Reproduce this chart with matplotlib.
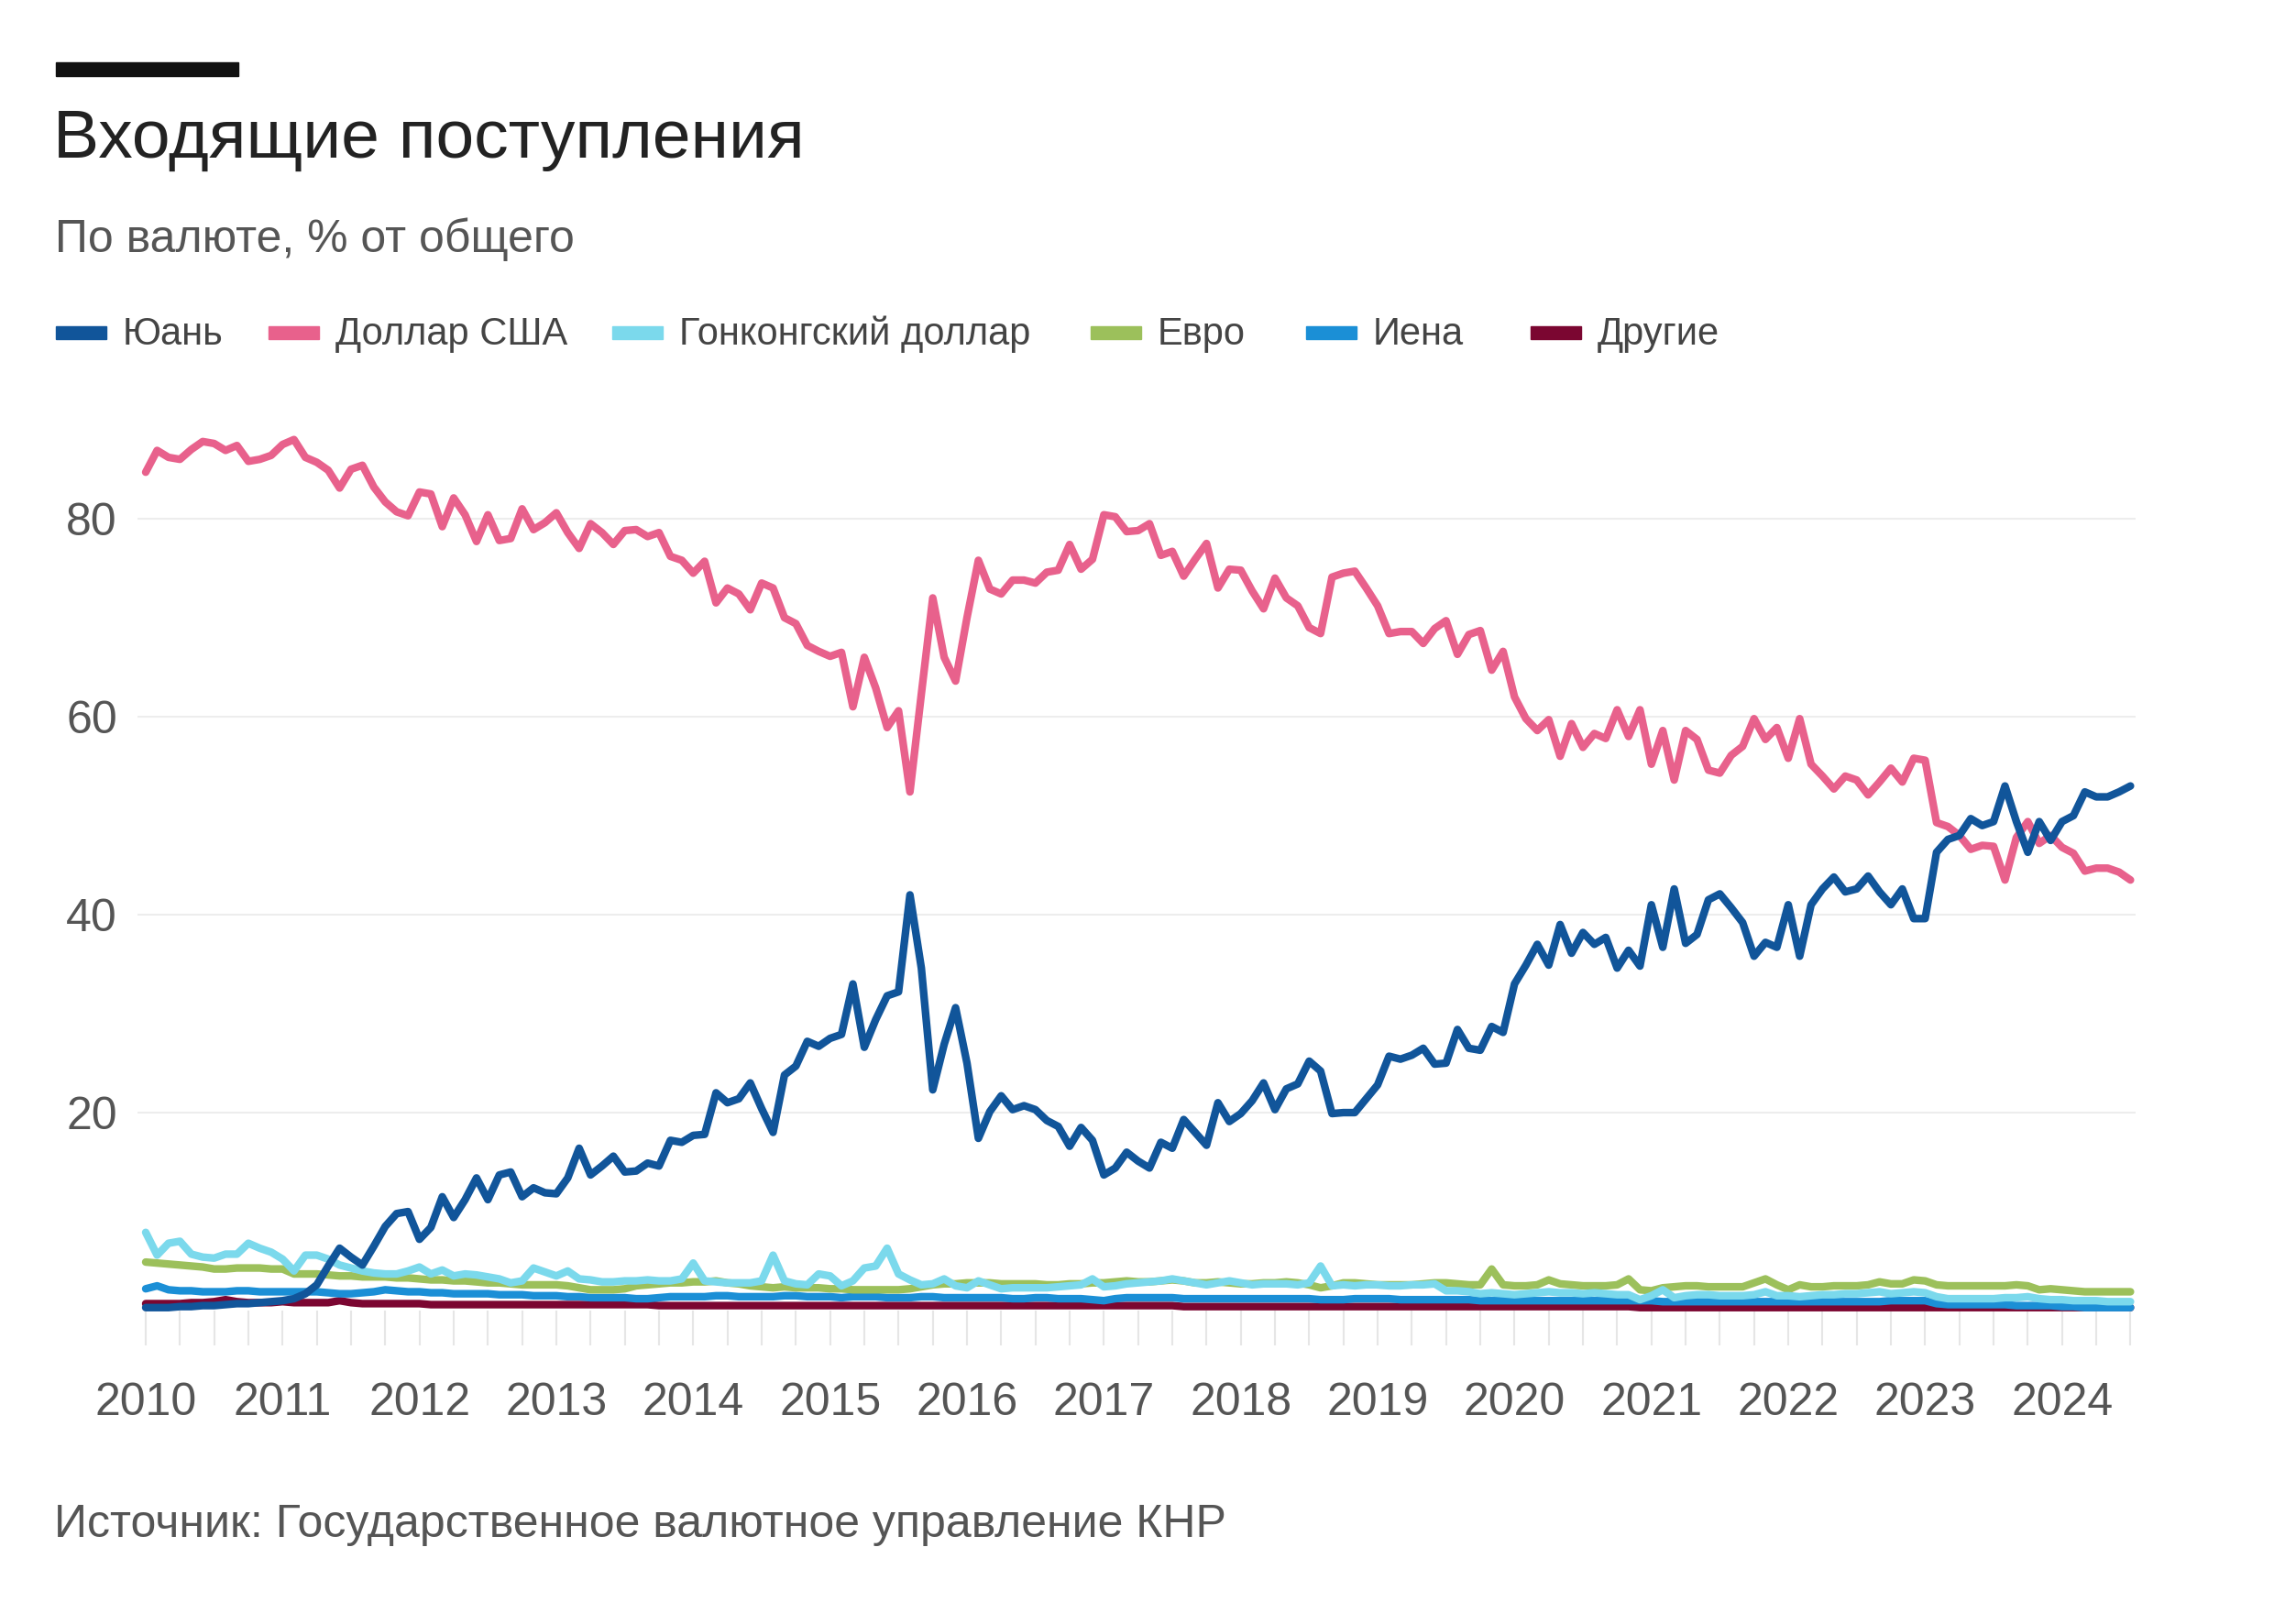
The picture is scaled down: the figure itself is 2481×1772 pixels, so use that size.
import numpy as np
import matplotlib
matplotlib.use("Agg")
import matplotlib.pyplot as plt
from matplotlib.patches import Rectangle

plt.rcParams['font.family'] = ['Liberation Sans', 'DejaVu Sans']

# monthly shares, Jan 2010 .. Jul 2024 (% of total inflows)
years = list(range(2010, 2025))

yuan = [0.3, 0.3, 0.3, 0.4, 0.4, 0.5, 0.5, 0.6, 0.7, 0.7, 0.8, 0.9,
        1.0, 1.2, 1.7, 2.6, 4.5, 6.3, 5.4, 4.6, 6.5, 8.5, 9.8, 10.0,
        7.2, 8.4, 11.5, 9.4, 11.2, 13.4, 11.2, 13.7, 14.0, 11.5, 12.4, 11.9,
        11.8, 13.4, 16.4, 13.7, 14.6, 15.6, 14.0, 14.1, 14.9, 14.6, 17.2, 17.0,
        17.7, 17.8, 22.0, 21.0, 21.4, 23.0, 20.4, 18.0, 23.8, 24.7, 27.2, 26.7,
        27.5, 27.9, 33.0, 26.6, 29.4, 31.8, 32.2, 42.0, 34.6, 22.3, 26.9, 30.6,
        25.0, 17.4, 20.1, 21.7, 20.3, 20.7, 20.3, 19.2, 18.6, 16.6, 18.5, 17.2,
        13.7, 14.4, 16.0, 15.1, 14.4, 17.0, 16.4, 19.3, 18.0, 16.7, 21.0, 19.1,
        19.9, 21.2, 23.0, 20.3, 22.4, 22.9, 25.2, 24.2, 19.9, 20.0, 20.0, 21.4,
        22.8, 25.7, 25.4, 25.8, 26.5, 24.9, 25.0, 28.4, 26.5, 26.3, 28.7, 28.1,
        33.0, 34.9, 37.0, 34.9, 39.0, 36.1, 38.2, 37.0, 37.7, 34.6, 36.4, 34.8,
        41.0, 36.7, 42.6, 37.1, 38.0, 41.5, 42.1, 40.7, 39.2, 35.8, 37.2, 36.7,
        41.0, 35.8, 41.0, 42.6, 43.8, 42.3, 42.6, 43.9, 42.3, 41.0, 42.6, 39.6,
        39.6, 46.3, 47.6, 48.0, 49.7, 49.0, 49.4, 53.0, 49.4, 46.3, 49.4, 47.5,
        49.4, 50.0, 52.4, 51.9, 51.9, 52.4, 53.0]

usd = [84.7, 86.9, 86.2, 86.0, 87.0, 87.8, 87.6, 86.9, 87.4, 85.8, 86.0, 86.4,
       87.5, 88.0, 86.2, 85.7, 84.9, 83.1, 85.0, 85.4, 83.2, 81.7, 80.7, 80.3,
       82.7, 82.5, 79.2, 82.1, 80.4, 77.7, 80.4, 77.8, 78.0, 81.0, 78.9, 79.6,
       80.6, 78.6, 77.0, 79.5, 78.6, 77.4, 78.8, 78.9, 78.2, 78.6, 76.2, 75.8,
       74.5, 75.7, 71.5, 73.0, 72.4, 70.8, 73.5, 73.0, 70.0, 69.4, 67.2, 66.6,
       66.1, 66.5, 61.0, 66.0, 62.9, 58.9, 60.6, 52.4, 62.3, 72.0, 66.0, 63.6,
       70.0, 75.8, 72.9, 72.4, 73.8, 73.8, 73.5, 74.6, 74.8, 77.4, 74.9, 75.9,
       80.4, 80.2, 78.7, 78.8, 79.5, 76.3, 76.7, 74.2, 75.9, 77.5, 73.0, 74.9,
       74.8, 72.7, 70.9, 74.0, 72.0, 71.2, 69.0, 68.4, 74.1, 74.5, 74.7, 73.0,
       71.2, 68.4, 68.6, 68.6, 67.4, 68.9, 69.7, 66.3, 68.3, 68.7, 64.7, 66.6,
       62.0, 59.8, 58.6, 59.7, 56.0, 59.3, 56.9, 58.3, 57.8, 60.7, 58.0, 60.7,
       55.2, 58.6, 53.6, 58.6, 57.7, 54.6, 54.3, 56.1, 57.0, 59.8, 57.7, 58.9,
       55.8, 59.8, 55.2, 54.0, 52.7, 54.0, 53.6, 52.1, 53.4, 54.8, 53.4, 55.8,
       55.6, 49.3, 48.9, 48.0, 46.6, 47.0, 46.9, 43.5, 47.8, 49.4, 47.2, 48.0,
       46.8, 46.2, 44.4, 44.7, 44.7, 44.3, 43.5]

hkd = [7.9, 5.6, 6.8, 7.0, 5.7, 5.4, 5.3, 5.7, 5.7, 6.8, 6.3, 5.9,
       5.2, 4.0, 5.6, 5.6, 5.2, 4.6, 4.3, 4.0, 3.8, 3.7, 3.7, 4.0,
       4.4, 3.7, 4.1, 3.5, 3.7, 3.6, 3.4, 3.2, 2.8, 3.0, 4.3, 3.9,
       3.5, 4.0, 3.2, 3.1, 2.9, 2.9, 3.0, 3.0, 3.1, 3.0, 3.0, 3.2,
       4.8, 3.0, 2.9, 2.8, 2.8, 2.8, 3.0, 5.6, 3.0, 2.7, 2.6, 3.7,
       3.5, 2.5, 3.0, 4.3, 4.5, 6.3, 3.7, 3.1, 2.6, 2.7, 3.2, 2.5,
       2.3, 3.0, 2.6, 2.2, 2.3, 2.3, 2.3, 2.3, 2.4, 2.5, 2.6, 3.2,
       2.4, 2.5, 2.7, 2.8, 2.9, 3.0, 3.2, 3.0, 2.8, 2.6, 2.8, 3.0,
       2.8, 2.6, 2.7, 2.7, 2.7, 2.6, 2.8, 4.5, 2.5, 2.6, 2.5, 2.6,
       2.6, 2.5, 2.5, 2.6, 2.6, 2.7, 2.0, 2.0, 1.9, 1.7, 1.8, 1.7,
       1.6, 1.7, 1.8, 1.9, 1.8, 1.8, 1.7, 1.8, 1.7, 1.6, 1.6, 1.1,
       1.5, 2.1, 1.3, 1.5, 1.6, 1.6, 1.5, 1.5, 1.5, 1.6, 1.9, 1.5,
       1.5, 1.4, 1.5, 1.6, 1.6, 1.7, 1.7, 1.8, 1.9, 1.7, 1.8, 1.9,
       1.8, 1.4, 1.2, 1.2, 1.2, 1.2, 1.2, 1.3, 1.3, 1.4, 1.2, 1.1,
       1.1, 1.0, 1.0, 1.0, 0.9, 0.9, 0.9]

eur = [4.9, 4.8, 4.7, 4.6, 4.5, 4.4, 4.2, 4.2, 4.3, 4.3, 4.3, 4.2,
       4.2, 3.7, 3.7, 3.7, 3.6, 3.5, 3.5, 3.4, 3.4, 3.4, 3.3, 3.3,
       3.2, 3.1, 3.1, 3.0, 3.0, 2.9, 2.8, 2.8, 2.7, 2.6, 2.6, 2.6,
       2.6, 2.5, 2.3, 2.1, 2.1, 2.1, 2.2, 2.5, 2.6, 2.7, 2.8, 2.8,
       2.9, 2.9, 3.0, 2.8, 2.7, 2.5, 2.4, 2.3, 2.4, 2.3, 2.3, 2.3,
       2.2, 2.2, 2.1, 2.1, 2.1, 2.1, 2.1, 2.2, 2.4, 2.6, 2.7, 2.7,
       2.8, 2.8, 2.8, 2.7, 2.7, 2.7, 2.7, 2.6, 2.6, 2.7, 2.7, 2.8,
       2.8, 2.9, 3.0, 2.9, 2.9, 3.0, 3.1, 3.0, 2.8, 2.8, 2.9, 2.8,
       2.7, 2.7, 2.8, 2.8, 2.9, 2.8, 2.6, 2.3, 2.5, 2.8, 2.8, 2.7,
       2.6, 2.6, 2.6, 2.6, 2.7, 2.8, 2.8, 2.7, 2.6, 2.6, 4.2, 2.6,
       2.5, 2.5, 2.6, 3.1, 2.7, 2.6, 2.5, 2.5, 2.5, 2.6, 3.2, 2.1,
       2.0, 2.3, 2.4, 2.5, 2.5, 2.4, 2.4, 2.4, 2.4, 2.8, 3.2, 2.6,
       2.1, 2.6, 2.4, 2.4, 2.5, 2.5, 2.5, 2.6, 2.9, 2.7, 2.7, 3.1,
       3.0, 2.6, 2.5, 2.5, 2.5, 2.5, 2.5, 2.5, 2.6, 2.5, 2.1, 2.2,
       2.1, 2.0, 1.9, 1.9, 1.9, 1.9, 1.9]

jpy = [2.2, 2.5, 2.1, 2.0, 2.0, 1.9, 1.9, 1.9, 2.0, 2.0, 1.9, 1.9,
       1.9, 1.9, 1.9, 1.9, 1.8, 1.7, 1.7, 1.8, 1.9, 2.1, 2.0, 1.9,
       1.9, 1.8, 1.8, 1.7, 1.7, 1.7, 1.7, 1.6, 1.6, 1.6, 1.5, 1.5,
       1.5, 1.4, 1.4, 1.3, 1.3, 1.3, 1.3, 1.2, 1.2, 1.3, 1.4, 1.4,
       1.4, 1.4, 1.5, 1.5, 1.4, 1.4, 1.4, 1.4, 1.5, 1.5, 1.4, 1.4,
       1.4, 1.3, 1.4, 1.4, 1.4, 1.3, 1.3, 1.3, 1.4, 1.4, 1.3, 1.3,
       1.3, 1.3, 1.3, 1.3, 1.2, 1.2, 1.3, 1.3, 1.2, 1.2, 1.2, 1.1,
       1.0, 1.2, 1.3, 1.3, 1.3, 1.3, 1.3, 1.2, 1.2, 1.2, 1.2, 1.2,
       1.2, 1.2, 1.2, 1.2, 1.2, 1.2, 1.2, 1.1, 1.1, 1.1, 1.2, 1.2,
       1.2, 1.2, 1.1, 1.1, 1.1, 1.1, 1.1, 1.1, 1.1, 1.0, 1.0, 1.0,
       1.0, 1.0, 1.0, 1.0, 1.0, 1.0, 1.0, 1.0, 1.0, 1.0, 1.0, 1.0,
       1.0, 0.9, 0.9, 0.9, 0.9, 0.9, 0.9, 0.9, 0.9, 0.9, 0.9, 0.9,
       0.9, 0.9, 0.9, 0.9, 0.9, 0.9, 0.9, 0.9, 0.9, 1.0, 1.0, 1.0,
       1.0, 0.7, 0.6, 0.6, 0.6, 0.6, 0.6, 0.6, 0.5, 0.5, 0.5, 0.5,
       0.4, 0.4, 0.3, 0.3, 0.3, 0.3, 0.3]

other = [0.7, 0.7, 0.7, 0.7, 0.8, 0.8, 0.9, 1.1, 0.9, 0.8, 0.8, 0.8,
         0.9, 0.8, 0.8, 0.8, 0.8, 1.0, 0.8, 0.7, 0.7, 0.7, 0.7, 0.7,
         0.7, 0.6, 0.6, 0.6, 0.6, 0.6, 0.6, 0.6, 0.6, 0.6, 0.6, 0.6,
         0.6, 0.6, 0.6, 0.6, 0.6, 0.6, 0.6, 0.6, 0.6, 0.5, 0.5, 0.5,
         0.5, 0.5, 0.5, 0.5, 0.5, 0.5, 0.5, 0.5, 0.5, 0.5, 0.5, 0.5,
         0.5, 0.5, 0.5, 0.5, 0.5, 0.5, 0.5, 0.5, 0.5, 0.5, 0.5, 0.5,
         0.5, 0.5, 0.5, 0.5, 0.5, 0.5, 0.5, 0.5, 0.5, 0.5, 0.5, 0.5,
         0.5, 0.5, 0.5, 0.5, 0.5, 0.5, 0.5, 0.4, 0.4, 0.4, 0.4, 0.4,
         0.4, 0.4, 0.4, 0.4, 0.4, 0.4, 0.4, 0.4, 0.4, 0.4, 0.4, 0.4,
         0.4, 0.4, 0.4, 0.4, 0.4, 0.4, 0.4, 0.4, 0.4, 0.4, 0.4, 0.4,
         0.4, 0.4, 0.4, 0.4, 0.4, 0.4, 0.4, 0.4, 0.4, 0.4, 0.4, 0.3,
         0.3, 0.3, 0.3, 0.3, 0.3, 0.3, 0.3, 0.3, 0.3, 0.3, 0.3, 0.3,
         0.3, 0.3, 0.3, 0.3, 0.3, 0.3, 0.3, 0.3, 0.3, 0.3, 0.3, 0.3,
         0.3, 0.3, 0.3, 0.3, 0.3, 0.3, 0.3, 0.3, 0.3, 0.3, 0.3, 0.3,
         0.3, 0.3, 0.3, 0.3, 0.3, 0.3, 0.3]

names = ['Юань', 'Доллар США', 'Гонконгский доллар', 'Евро', 'Иена', 'Другие']
colors = ['#11559a', '#e8618c', '#7bd9ec', '#9cc05b', '#1b8fd6', '#7b0631']
series = [yuan, usd, hkd, eur, jpy, other]

W, H = 2481, 1772
fig = plt.figure(figsize=(W / 100, H / 100), dpi=100)
fig.patch.set_facecolor('white')

def fx(px):
    return px / W

def fy(py):
    return 1 - py / H

# plot area: month 0 at x=159px, 12.44 px per month; y=0 at 1430px, 10.8 px per unit
ax = fig.add_axes([fx(150), fy(1430), fx(2330) - fx(150), (1430 - 458) / H])
ax.set_xlim(-0.72, 174.45)
ax.set_ylim(0, 90)

months = np.arange(len(usd))
# draw small ones first, yuan on top
for i in [5, 4, 3, 2, 1, 0]:
    ax.plot(months, series[i], color=colors[i], lw=6.0, solid_joinstyle='round',
            solid_capstyle='round', clip_on=False, zorder=3 + (5 - i))

for s in ax.spines.values():
    s.set_visible(False)

ax.set_yticks([20, 40, 60, 80])
ax.yaxis.grid(True, color='#ededed', lw=1.5)
ax.set_axisbelow(True)
ax.tick_params(axis='y', length=0, pad=16, labelsize=36, labelcolor='#555555')

year_pos = [(y - 2010) * 12 for y in years]
ax.set_xticks(year_pos)
ax.set_xticklabels([str(y) for y in years])
ax.set_xticks(np.arange(0, 175, 3), minor=True)
ax.tick_params(axis='x', which='both', length=27, width=1.5, color='#e6e6e6',
               direction='out')
ax.tick_params(axis='x', which='major', pad=29, labelsize=36, labelcolor='#555555')

# header
fig.patches.append(Rectangle((fx(61), fy(83)), fx(199), 15 / H, color='#111111',
                             transform=fig.transFigure))
fig.text(fx(58), fy(172), 'Входящие поступления', fontsize=54, color='#222222',
         va='baseline')
fig.text(fx(60), fy(275), 'По валюте, % от общего', fontsize=36, color='#555555',
         va='baseline')

# legend row
leg_x = [61, 293, 668, 1190, 1425, 1670]
for i in range(6):
    fig.patches.append(Rectangle((fx(leg_x[i]), fy(370)), fx(55), 14 / H,
                                 color=colors[i], transform=fig.transFigure))
    fig.text(fx(leg_x[i] + 73), fy(376), names[i], fontsize=30, color='#444444',
             va='baseline')

fig.text(fx(59), fy(1677), 'Источник: Государственное валютное управление КНР',
         fontsize=36, color='#555555', va='baseline')

fig.savefig('out.png', dpi=100, facecolor='white')
